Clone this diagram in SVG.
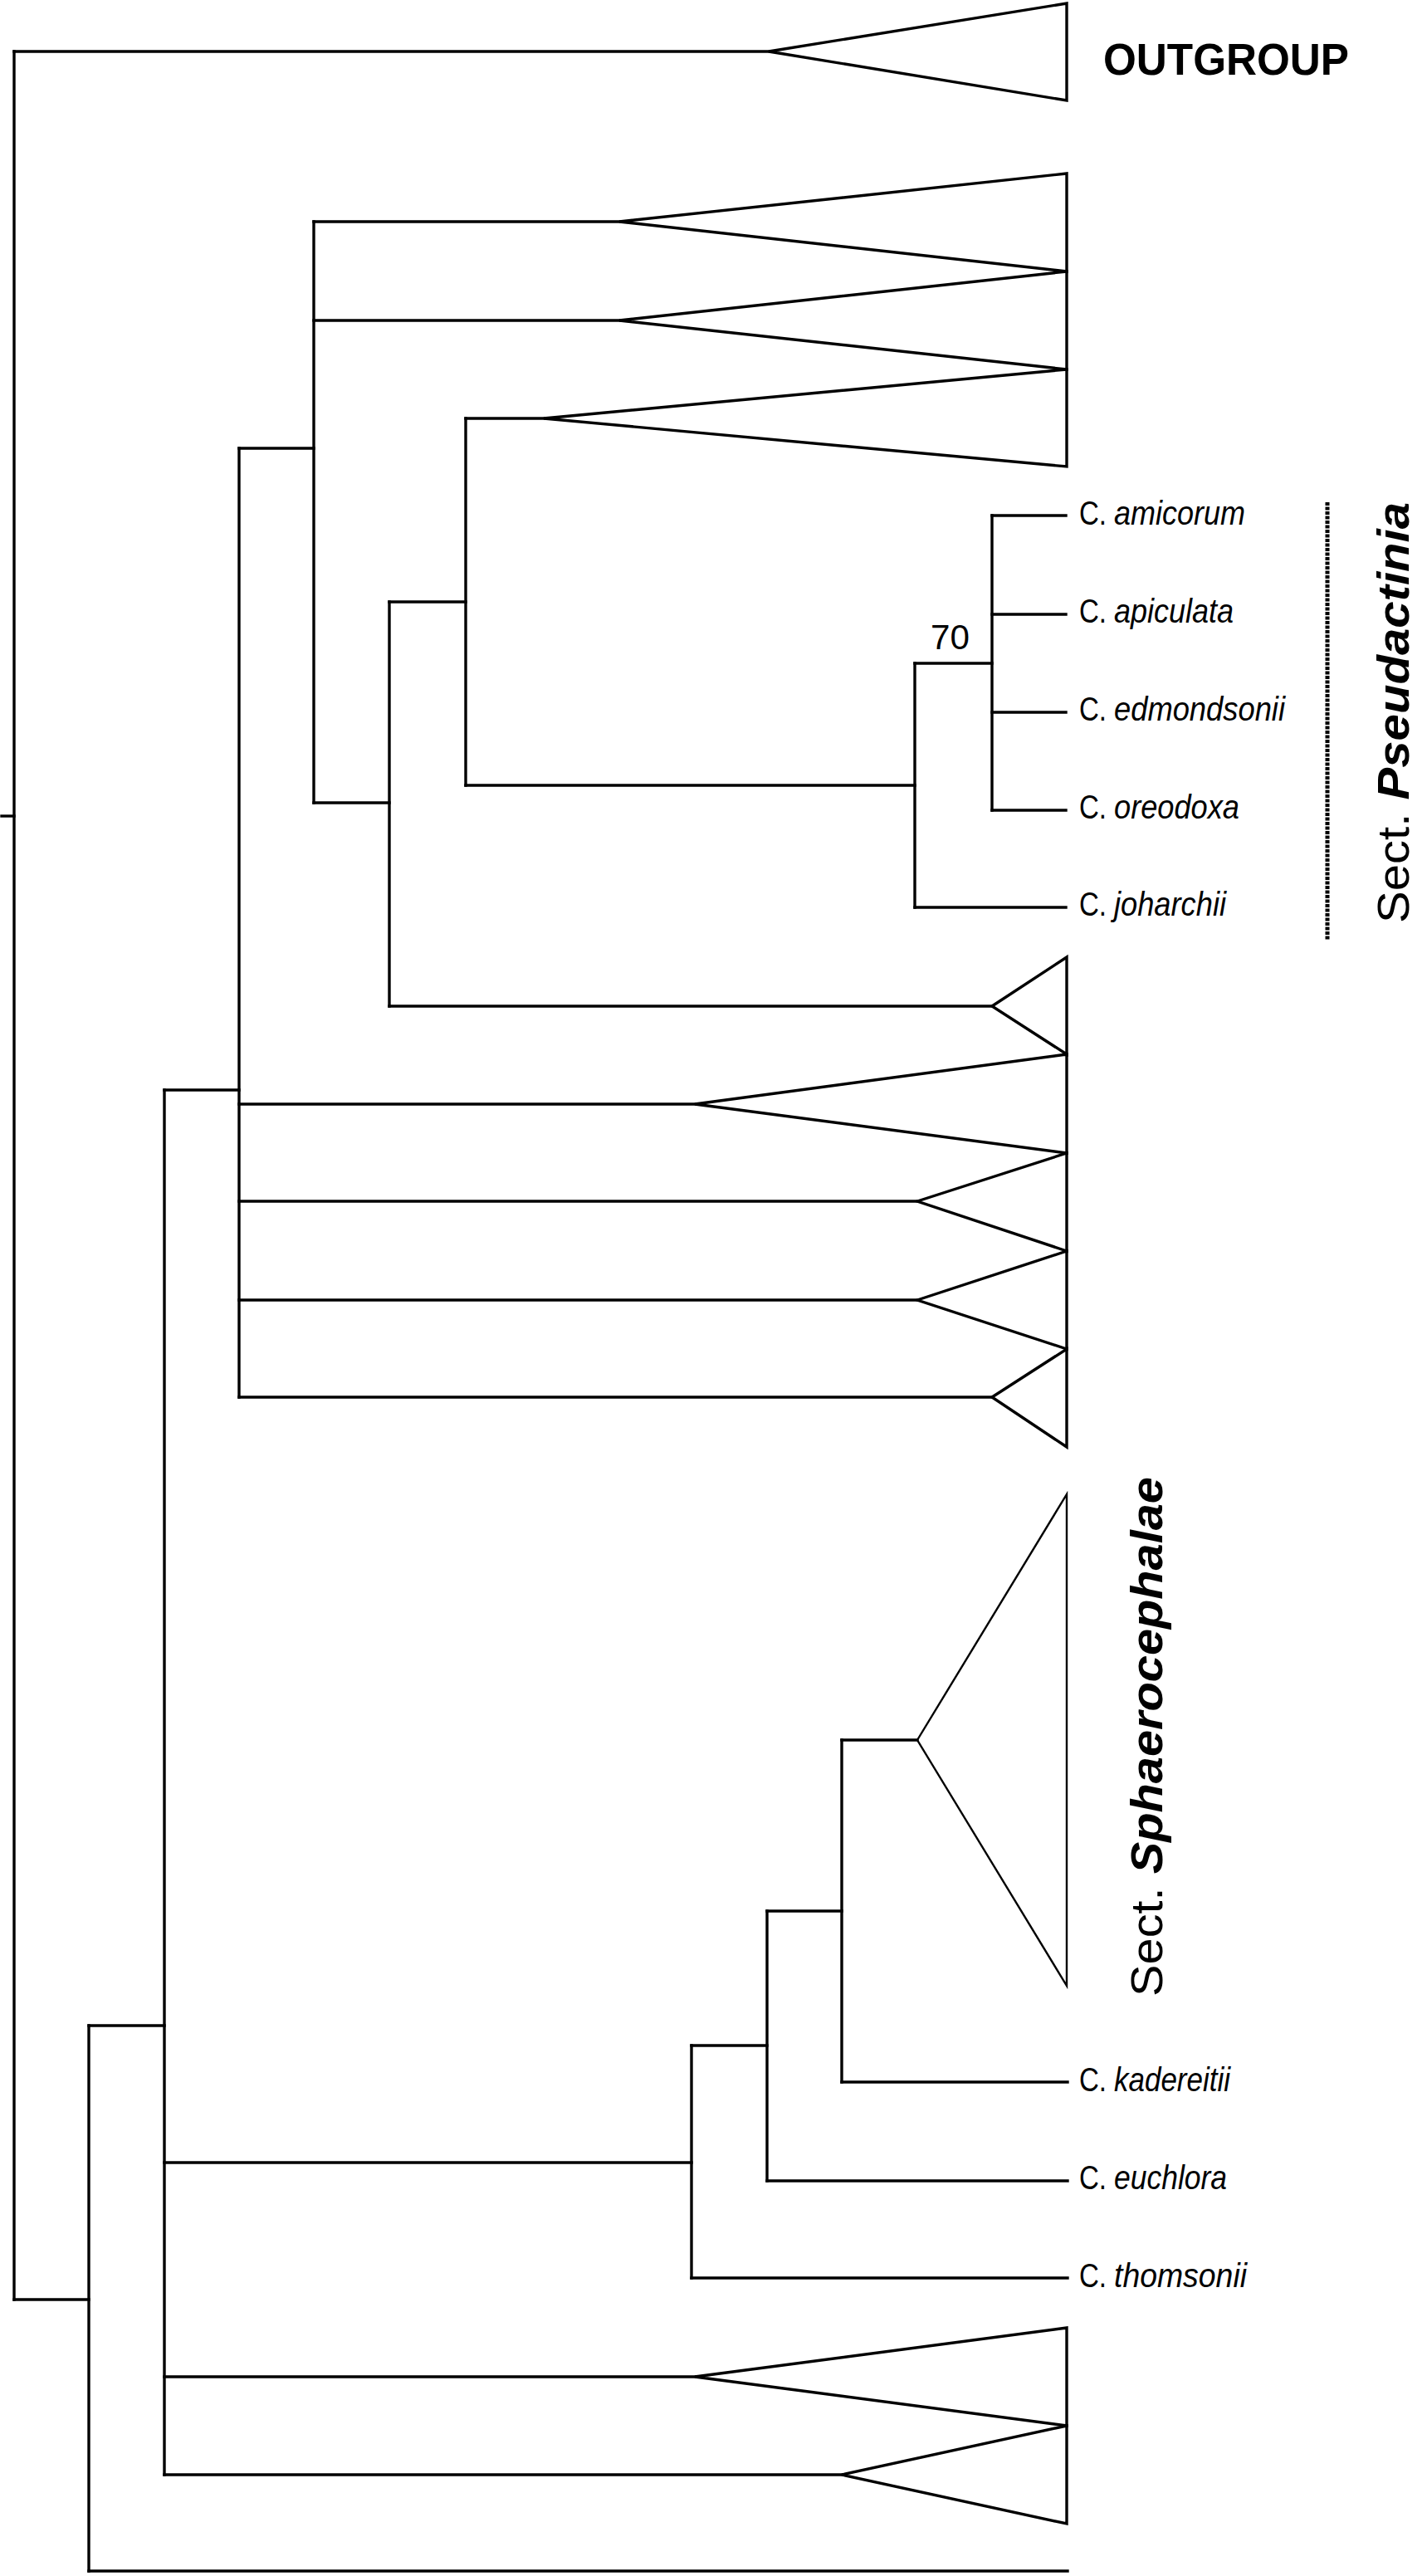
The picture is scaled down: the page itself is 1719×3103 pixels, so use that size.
<svg xmlns="http://www.w3.org/2000/svg" width="1719" height="3103" viewBox="0 0 1719 3103">
<style>
.br{stroke:#000;stroke-width:3.4;fill:none;stroke-linecap:square}
.tri{stroke:#000;stroke-width:3.4;fill:none;stroke-linejoin:miter}
.thin{stroke-width:2.4}
.lab{font-family:"Liberation Sans",Arial,sans-serif;font-size:40px;fill:#000}
.ep{font-style:italic}
.sect{font-family:"Liberation Sans",Arial,sans-serif;font-size:54px;fill:#000}
.bi{font-weight:bold;font-style:italic}
</style>
<rect width="1719" height="3103" fill="#fff"/>
<g id="connectors">
  <line class="br" x1="17" y1="62" x2="17" y2="2770"/>
  <line class="br" x1="2" y1="983" x2="17" y2="983"/>
  <line class="br" x1="17" y1="62" x2="926" y2="62"/>
  <line class="br" x1="17" y1="2770" x2="107" y2="2770"/>
  <line class="br" x1="107" y1="2440" x2="107" y2="3097"/>
  <line class="br" x1="107" y1="2440" x2="198" y2="2440"/>
  <line class="br" x1="107" y1="3097" x2="1286" y2="3097"/>
  <line class="br" x1="198" y1="1313" x2="198" y2="2981"/>
  <line class="br" x1="198" y1="1313" x2="288" y2="1313"/>
  <line class="br" x1="198" y1="2605" x2="833" y2="2605"/>
  <line class="br" x1="198" y1="2863" x2="837" y2="2863"/>
  <line class="br" x1="198" y1="2981" x2="1014" y2="2981"/>
  <line class="br" x1="288" y1="540" x2="288" y2="1683"/>
  <line class="br" x1="288" y1="540" x2="378" y2="540"/>
  <line class="br" x1="288" y1="1330" x2="837" y2="1330"/>
  <line class="br" x1="288" y1="1447" x2="1105" y2="1447"/>
  <line class="br" x1="288" y1="1566" x2="1105" y2="1566"/>
  <line class="br" x1="288" y1="1683" x2="1195" y2="1683"/>
  <line class="br" x1="378" y1="267" x2="378" y2="967"/>
  <line class="br" x1="378" y1="267" x2="746" y2="267"/>
  <line class="br" x1="378" y1="386" x2="746" y2="386"/>
  <line class="br" x1="378" y1="967" x2="469" y2="967"/>
  <line class="br" x1="469" y1="725" x2="469" y2="1212"/>
  <line class="br" x1="469" y1="725" x2="561" y2="725"/>
  <line class="br" x1="469" y1="1212" x2="1195" y2="1212"/>
  <line class="br" x1="561" y1="504" x2="561" y2="946"/>
  <line class="br" x1="561" y1="504" x2="655" y2="504"/>
  <line class="br" x1="561" y1="946" x2="1102" y2="946"/>
  <line class="br" x1="1102" y1="799" x2="1102" y2="1093"/>
  <line class="br" x1="1102" y1="799" x2="1195" y2="799"/>
  <line class="br" x1="1102" y1="1093" x2="1284" y2="1093"/>
  <line class="br" x1="1195" y1="621" x2="1195" y2="976"/>
  <line class="br" x1="1195" y1="621" x2="1284" y2="621"/>
  <line class="br" x1="1195" y1="740" x2="1284" y2="740"/>
  <line class="br" x1="1195" y1="858" x2="1284" y2="858"/>
  <line class="br" x1="1195" y1="976" x2="1284" y2="976"/>
  <line class="br" x1="833" y1="2464" x2="833" y2="2744"/>
  <line class="br" x1="833" y1="2464" x2="924" y2="2464"/>
  <line class="br" x1="833" y1="2744" x2="1286" y2="2744"/>
  <line class="br" x1="924" y1="2302" x2="924" y2="2627"/>
  <line class="br" x1="924" y1="2302" x2="1014" y2="2302"/>
  <line class="br" x1="924" y1="2627" x2="1286" y2="2627"/>
  <line class="br" x1="1014" y1="2096" x2="1014" y2="2508"/>
  <line class="br" x1="1014" y1="2096" x2="1105" y2="2096"/>
  <line class="br" x1="1014" y1="2508" x2="1286" y2="2508"/>
</g>
<g id="clade-outgroup"><polygon class="tri" points="926,62 1285,4 1285,121"/></g>
<g id="clade-a1"><polygon class="tri" points="746,267 1285,209 1285,327"/></g>
<g id="clade-a2"><polygon class="tri" points="746,386 1285,327 1285,445"/></g>
<g id="clade-a3"><polygon class="tri" points="655,504 1285,445 1285,562"/></g>
<g id="clade-b1"><polygon class="tri" points="1195,1212 1285,1153 1285,1270"/></g>
<g id="clade-b2"><polygon class="tri" points="837,1330 1285,1270 1285,1389"/></g>
<g id="clade-b3"><polygon class="tri" points="1105,1447 1285,1389 1285,1507"/></g>
<g id="clade-b4"><polygon class="tri" points="1105,1566 1285,1507 1285,1625"/></g>
<g id="clade-b5"><polygon class="tri" points="1195,1683 1285,1625 1285,1743"/></g>
<g id="clade-sphaerocephalae"><polygon class="tri thin" points="1105,2096 1285,1800 1285,2392"/></g>
<g id="clade-c1"><polygon class="tri" points="837,2863 1285,2804 1285,2922"/></g>
<g id="clade-c2"><polygon class="tri" points="1014,2981 1285,2922 1285,3040"/></g>

<g id="label-outgroup"><text x="1329" y="90" font-family="Liberation Sans, Arial, sans-serif" font-size="53" font-weight="bold" textLength="296" lengthAdjust="spacingAndGlyphs">OUTGROUP</text></g>
<g id="label-70"><text x="1121" y="782" font-family="Liberation Sans, Arial, sans-serif" font-size="42" textLength="47" lengthAdjust="spacingAndGlyphs">70</text></g>

<g id="leaf-amicorum"><text class="lab" x="1300" y="632" textLength="33" lengthAdjust="spacingAndGlyphs">C.</text><text class="lab ep" x="1342" y="632" textLength="158" lengthAdjust="spacingAndGlyphs">amicorum</text></g>
<g id="leaf-apiculata"><text class="lab" x="1300" y="750" textLength="33" lengthAdjust="spacingAndGlyphs">C.</text><text class="lab ep" x="1342" y="750" textLength="144" lengthAdjust="spacingAndGlyphs">apiculata</text></g>
<g id="leaf-edmondsonii"><text class="lab" x="1300" y="868" textLength="33" lengthAdjust="spacingAndGlyphs">C.</text><text class="lab ep" x="1342" y="868" textLength="206" lengthAdjust="spacingAndGlyphs">edmondsonii</text></g>
<g id="leaf-oreodoxa"><text class="lab" x="1300" y="986" textLength="33" lengthAdjust="spacingAndGlyphs">C.</text><text class="lab ep" x="1342" y="986" textLength="151" lengthAdjust="spacingAndGlyphs">oreodoxa</text></g>
<g id="leaf-joharchii"><text class="lab" x="1300" y="1103" textLength="33" lengthAdjust="spacingAndGlyphs">C.</text><text class="lab ep" x="1342" y="1103" textLength="135" lengthAdjust="spacingAndGlyphs">joharchii</text></g>
<g id="leaf-kadereitii"><text class="lab" x="1300" y="2519" textLength="33" lengthAdjust="spacingAndGlyphs">C.</text><text class="lab ep" x="1342" y="2519" textLength="140" lengthAdjust="spacingAndGlyphs">kadereitii</text></g>
<g id="leaf-euchlora"><text class="lab" x="1300" y="2637" textLength="33" lengthAdjust="spacingAndGlyphs">C.</text><text class="lab ep" x="1342" y="2637" textLength="136" lengthAdjust="spacingAndGlyphs">euchlora</text></g>
<g id="leaf-thomsonii"><text class="lab" x="1300" y="2755" textLength="33" lengthAdjust="spacingAndGlyphs">C.</text><text class="lab ep" x="1342" y="2755" textLength="160" lengthAdjust="spacingAndGlyphs">thomsonii</text></g>

<g id="sect-pseudactinia">
  <line x1="1599" y1="605" x2="1599" y2="1132" stroke="#000" stroke-width="5" stroke-dasharray="4 1.5"/>
  <text class="sect" transform="translate(1697,1112) rotate(-90)" x="0" y="0" textLength="507" lengthAdjust="spacingAndGlyphs">Sect. <tspan class="bi">Pseudactinia</tspan></text>
</g>
<g id="sect-sphaerocephalae">
  <text class="sect" transform="translate(1400,2405) rotate(-90)" x="0" y="0" textLength="626" lengthAdjust="spacingAndGlyphs">Sect. <tspan class="bi">Sphaerocephalae</tspan></text>
</g>
</svg>
